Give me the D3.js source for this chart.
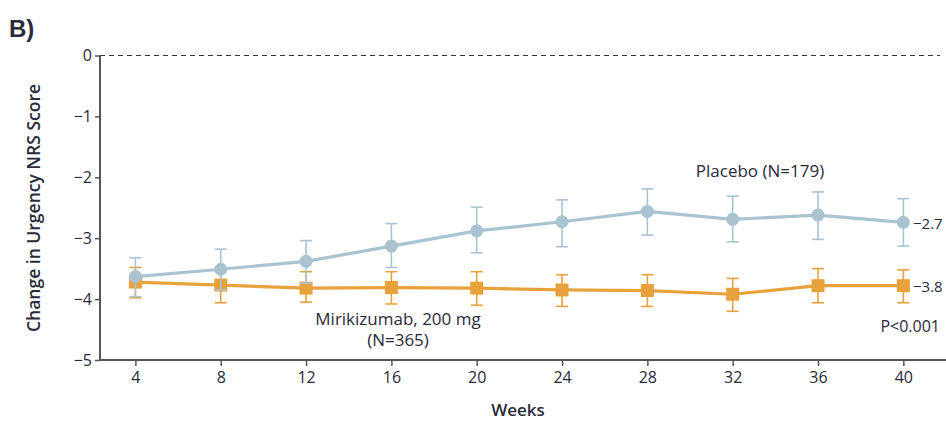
<!DOCTYPE html>
<html>
<head>
<meta charset="utf-8">
<script src="https://cdn.jsdelivr.net/npm/d3@7"></script>
<style>
  body { margin: 0; background: #fff; }
  svg text { font-family: "Open Sans", "Liberation Sans", sans-serif; fill: #2a2a3a; }
</style>
</head>
<body>
<svg id="chart" width="946" height="421"></svg>
<script>
// data
var weeks = [4, 8, 12, 16, 20, 24, 28, 32, 36, 40];

var placeboMean  = [-3.63, -3.51, -3.38, -3.13, -2.88, -2.73, -2.56, -2.69, -2.62, -2.74];
var placeboUpper = [-3.32, -3.18, -3.04, -2.76, -2.49, -2.37, -2.19, -2.31, -2.24, -2.35];
var placeboLower = [-3.96, -3.85, -3.74, -3.48, -3.24, -3.14, -2.95, -3.06, -3.02, -3.13];

var miriMean  = [-3.72, -3.77, -3.82, -3.81, -3.82, -3.85, -3.86, -3.92, -3.78, -3.78];
var miriUpper = [-3.48, -3.49, -3.55, -3.55, -3.55, -3.60, -3.60, -3.66, -3.50, -3.52];
var miriLower = [-3.98, -4.06, -4.05, -4.08, -4.10, -4.12, -4.12, -4.20, -4.06, -4.06];

var yTicks = [0, -1, -2, -3, -4, -5];

var blue   = "#a9c3d1";
var orange = "#e8a23c";

var svg = d3.select("#chart");

var x = d3.scaleLinear().domain([2.34, 42]).range([100, 946]);
var y = d3.scaleLinear().domain([0, -5]).range([55.5, 360]);

// zero reference line
svg.append("line")
    .attr("x1", x(2.34)).attr("x2", 940)
    .attr("y1", y(0)).attr("y2", y(0))
    .attr("stroke", "#333").attr("stroke-width", 1.2)
    .attr("stroke-dasharray", "5,4");

// axes
var yAxis = d3.axisLeft(y).tickValues(yTicks).tickSize(5).tickPadding(3)
    .tickFormat(function(d) { return d == 0 ? "0" : "\u2212" + Math.abs(d); });
var gy = svg.append("g").attr("transform", "translate(100,0)").call(yAxis);

var xAxis = d3.axisBottom(x).tickValues(weeks).tickSize(6).tickPadding(6);
var gx = svg.append("g").attr("transform", "translate(0,360)").call(xAxis);

[gx, gy].forEach(function(g) {
    g.select(".domain").attr("stroke", "#555").attr("stroke-width", 2);
    g.selectAll(".tick line").attr("stroke", "#555").attr("stroke-width", 1.5);
    g.selectAll("text").style("font-size", "16px").attr("fill", "#2a2a3a");
});
gy.select(".domain").attr("d", "M0,55.5V360");
gx.select(".domain").attr("d", "M100,0H946");

function drawSeries(mean, upper, lower, color, shape) {
    var g = svg.append("g");
    // error bars
    weeks.forEach(function(w, i) {
        g.append("line")
            .attr("x1", x(w)).attr("x2", x(w))
            .attr("y1", y(upper[i])).attr("y2", y(lower[i]))
            .attr("stroke", color).attr("stroke-width", 1.6);
        [upper[i], lower[i]].forEach(function(v) {
            g.append("line")
                .attr("x1", x(w) - 6).attr("x2", x(w) + 6)
                .attr("y1", y(v)).attr("y2", y(v))
                .attr("stroke", color).attr("stroke-width", 1.6);
        });
    });
    var line = d3.line()
        .x(function(d, i) { return x(weeks[i]); })
        .y(function(d) { return y(d); });
    g.append("path")
        .datum(mean)
        .attr("d", line)
        .attr("fill", "none")
        .attr("stroke", color)
        .attr("stroke-width", 3.2);
    if (shape == "circle") {
        g.selectAll("circle").data(mean).enter().append("circle")
            .attr("cx", function(d, i) { return x(weeks[i]); })
            .attr("cy", function(d) { return y(d); })
            .attr("r", 6.5)
            .attr("fill", color);
    } else {
        g.selectAll("rect").data(mean).enter().append("rect")
            .attr("x", function(d, i) { return x(weeks[i]) - 6.5; })
            .attr("y", function(d) { return y(d) - 6.5; })
            .attr("width", 13).attr("height", 13)
            .attr("fill", color);
    }
}

drawSeries(miriMean, miriUpper, miriLower, orange, "rect");
drawSeries(placeboMean, placeboUpper, placeboLower, blue, "circle");

// labels
svg.append("text").attr("x", 9).attr("y", 37)
    .style("font-family", "Liberation Sans, Arial, sans-serif")
    .style("font-size", "24px").style("font-weight", "bold").attr("fill", "#000")
    .text("B)");

svg.append("text")
    .attr("transform", "translate(40,208) rotate(-90)")
    .attr("text-anchor", "middle")
    .style("font-size", "17.5px").style("font-weight", "600")
    .text("Change in Urgency NRS Score");

svg.append("text").attr("x", 518).attr("y", 416)
    .attr("text-anchor", "middle")
    .style("font-size", "17px").style("font-weight", "600")
    .text("Weeks");

svg.append("text").attr("x", 760).attr("y", 177)
    .attr("text-anchor", "middle").style("font-size", "17px")
    .text("Placebo (N=179)");

svg.append("text").attr("x", 398).attr("y", 325)
    .attr("text-anchor", "middle").style("font-size", "17px")
    .text("Mirikizumab, 200 mg");
svg.append("text").attr("x", 398).attr("y", 346)
    .attr("text-anchor", "middle").style("font-size", "17px")
    .text("(N=365)");

svg.append("text").attr("x", 913).attr("y", 229)
    .style("font-size", "15px")
    .text("\u22122.7");
svg.append("text").attr("x", 913).attr("y", 292)
    .style("font-size", "15px")
    .text("\u22123.8");

svg.append("text").attr("x", 940).attr("y", 332)
    .attr("text-anchor", "end").style("font-size", "16px")
    .text("P<0.001");
</script>
</body>
</html>
